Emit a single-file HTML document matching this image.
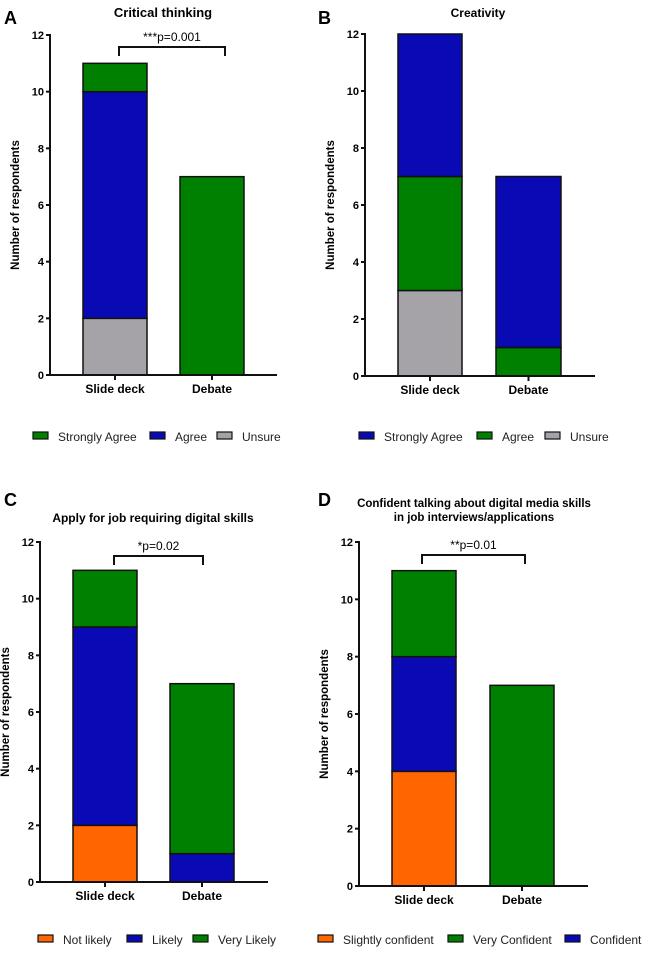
<!DOCTYPE html>
<html><head><meta charset="utf-8"><style>
body{margin:0;background:#fff;width:647px;height:950px;overflow:hidden}
svg{font-family:"Liberation Sans",Arial,sans-serif}
</style></head><body>
<svg id="s" width="647" height="950"></svg>
<script>
const categories=["Slide deck","Debate"];
const ticks=[0,2,4,6,8,10,12];
// Panel A
const aSeries=["Unsure","Agree","Strongly Agree"];
const aValues=[[2,0],[8,0],[1,7]];
// Panel B
const bSeries=["Unsure","Agree","Strongly Agree"];
const bValues=[[3,0],[4,1],[5,6]];
// Panel C
const cSeries=["Not likely","Likely","Very Likely"];
const cValues=[[2,0],[7,1],[2,6]];
// Panel D
const dSeries=["Slightly confident","Confident","Very Confident"];
const dValues=[[4,0],[4,0],[3,7]];

const G="#008000",BL="#0a0ab4",GR="#a5a3a8",OR="#ff6600";
const NS="http://www.w3.org/2000/svg";
const svg=document.getElementById('s');
function el(t,a,p,txt){const e=document.createElementNS(NS,t);for(const k in a)e.setAttribute(k,a[k]);if(txt!==undefined)e.textContent=txt;(p||svg).appendChild(e);return e;}

const panels=[
 {id:"a",letter:"A",lx:4,ly:24,title:["Critical thinking"],tx:163,ty:17,tsize:13,ax:50,y0:375,y12:35,axEnd:277,bars:[[83,147],[180,244]],series:aSeries,values:aValues,
  col:{"Unsure":GR,"Agree":BL,"Strongly Agree":G},
  br:{x1:119,x2:225,y:47,text:"***p=0.001"},leg:{y:437,items:[["Strongly Agree",33],["Agree",150],["Unsure",217]]}},
 {id:"b",letter:"B",lx:318,ly:24,title:["Creativity"],tx:478,ty:17,tsize:12,ax:365,y0:376,y12:34,axEnd:595,bars:[[398,462],[496,561]],series:bSeries,values:bValues,
  col:{"Unsure":GR,"Agree":G,"Strongly Agree":BL},
  br:null,leg:{y:437,items:[["Strongly Agree",359],["Agree",477],["Unsure",545]]}},
 {id:"c",letter:"C",lx:4,ly:506,title:["Apply for job requiring digital skills"],tx:153,ty:522,tsize:12,ax:40,y0:882,y12:542,axEnd:268,bars:[[73,137],[170,234]],series:cSeries,values:cValues,
  col:{"Not likely":OR,"Likely":BL,"Very Likely":G},
  br:{x1:114,x2:203,y:556,text:"*p=0.02"},leg:{y:940,items:[["Not likely",38],["Likely",127],["Very Likely",193]]}},
 {id:"d",letter:"D",lx:318,ly:506,title:["Confident  talking about digital media skills","in job interviews/applications"],tx:474,ty:507,tsize:11.5,ax:359,y0:886,y12:542,axEnd:588,bars:[[392,456],[490,554]],series:dSeries,values:dValues,
  col:{"Slightly confident":OR,"Confident":BL,"Very Confident":G},
  br:{x1:422,x2:525,y:555,text:"**p=0.01"},leg:{y:940,items:[["Slightly confident",318],["Very Confident",448],["Confident",565]]}}
];

panels.forEach(p=>{
 const g=el('g',{});
 el('text',{x:p.lx,y:p.ly,'font-size':18,'font-weight':'bold',},g,p.letter);
 p.title.forEach((t,i)=>el('text',{x:p.tx,y:p.ty+i*14,'font-size':p.tsize,'font-weight':'bold','text-anchor':'middle',},g,t));
 const ys=v=>p.y0-(p.y0-p.y12)*v/12;
 categories.forEach((c,ci)=>{
  let acc=0;
  p.series.forEach((s,si)=>{
   const v=p.values[si][ci];
   if(v>0){
    el('rect',{x:p.bars[ci][0],y:ys(acc+v),width:p.bars[ci][1]-p.bars[ci][0],height:ys(acc)-ys(acc+v),fill:p.col[s],stroke:'#111','stroke-width':1.5,},g);
   }
   acc+=v;
  });
  const cx=(p.bars[ci][0]+p.bars[ci][1])/2;
  el('line',{x1:cx,x2:cx,y1:p.y0,y2:p.y0+5,stroke:'#111','stroke-width':2},g);
  el('text',{x:cx,y:p.y0+18,'font-size':12,'font-weight':'bold','text-anchor':'middle',},g,c);
 });
 el('line',{x1:p.ax,x2:p.ax,y1:p.y12-1,y2:p.y0+1,stroke:'#111','stroke-width':2,},g);
 el('line',{x1:p.ax-1,x2:p.axEnd,y1:p.y0,y2:p.y0,stroke:'#111','stroke-width':2,},g);
 ticks.forEach(t=>{
  el('line',{x1:p.ax-4,x2:p.ax,y1:ys(t),y2:ys(t),stroke:'#111','stroke-width':2},g);
  el('text',{x:p.ax-6,y:ys(t)+4,'font-size':11,'font-weight':'bold','text-anchor':'end',},g,t);
 });
 const my=(p.y0+p.y12)/2, lx=p.ax-31;
 el('text',{x:lx,y:my,'font-size':11.5,'font-weight':'bold','text-anchor':'middle',transform:`rotate(-90 ${lx} ${my})`,},g,'Number of respondents');
 if(p.br){
  el('path',{d:`M${p.br.x1} ${p.br.y+9}V${p.br.y}H${p.br.x2}V${p.br.y+9}`,fill:'none',stroke:'#111','stroke-width':2,},g);
  el('text',{x:(p.br.x1+p.br.x2)/2,y:p.br.y-6,'font-size':12,'text-anchor':'middle',},g,p.br.text);
 }
 p.leg.items.forEach(([name,x])=>{
  const lg=el('g',{},g);
  el('rect',{x:x,y:p.leg.y-5,width:15,height:7,fill:p.col[name],stroke:'#111','stroke-width':1.2},lg);
  el('text',{x:x+25,y:p.leg.y+4,'font-size':12,fill:'#222'},lg,name);
 });
});
</script>
</body></html>
